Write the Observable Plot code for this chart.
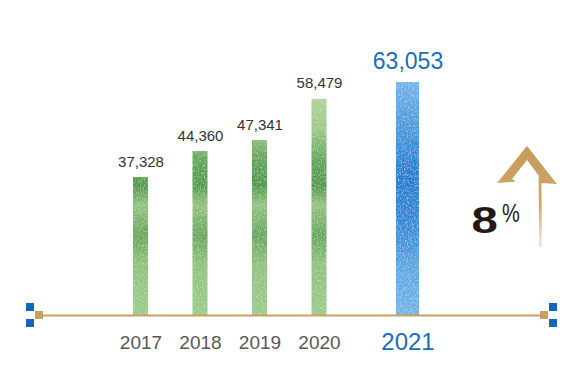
<!DOCTYPE html>
<html><head><meta charset="utf-8">
<script src="https://cdn.jsdelivr.net/npm/d3@7"></script>
<script src="https://cdn.jsdelivr.net/npm/@observablehq/plot@0.6"></script>
<style>html,body{margin:0;padding:0;background:#fff} svg{display:block}</style>
</head><body><div id="chart"></div>
<script>
// ---- data ----
const years = [2017, 2018, 2019, 2020, 2021];
const values = [37328, 44360, 47341, 58479, 63053];
const valueLabels = ["37,328", "44,360", "47,341", "58,479", "63,053"];
const yearLabels = ["2017", "2018", "2019", "2020", "2021"];
const highlightYear = 2021;
const growthLabel = "8";
const growthUnit = "%";

const data = years.map((y, i) => ({year: y, value: values[i], label: valueLabels[i], yearLabel: yearLabels[i]}));
const past = data.filter(d => d.year !== highlightYear);
const current = data.filter(d => d.year === highlightYear);

const W = 577, H = 385, mL = 43, mR = 37, mT = 82, mB = 70;
const BLUE = "#1a6db8", TAN = "#c9a064";

const defsMark = () => {
  const g = d3.create("svg:g");
  g.html(`
    <defs>
      <linearGradient id="gGreen" gradientUnits="userSpaceOnUse" x1="0" y1="95" x2="0" y2="315">
        <stop offset="0" stop-color="#b2d39e"/>
        <stop offset="0.16" stop-color="#9cc887"/>
        <stop offset="0.3" stop-color="#5fa455"/>
        <stop offset="0.41" stop-color="#4f9a4a"/>
        <stop offset="0.5" stop-color="#93c37f"/>
        <stop offset="0.64" stop-color="#66a75a"/>
        <stop offset="0.76" stop-color="#8ec17b"/>
        <stop offset="1" stop-color="#9ccb8a"/>
      </linearGradient>
      <linearGradient id="gBlue" x1="0" y1="0" x2="0" y2="1">
        <stop offset="0" stop-color="#74b4e8"/>
        <stop offset="0.25" stop-color="#3d93da"/>
        <stop offset="0.4" stop-color="#1f7ed0"/>
        <stop offset="0.6" stop-color="#3189d5"/>
        <stop offset="0.8" stop-color="#5ea8e2"/>
        <stop offset="1" stop-color="#73b5e8"/>
      </linearGradient>
      <linearGradient id="gArrow" gradientUnits="userSpaceOnUse" x1="0" y1="145" x2="0" y2="248">
        <stop offset="0" stop-color="#c49a5a"/>
        <stop offset="0.6" stop-color="#cfa86c"/>
        <stop offset="1" stop-color="#e6d2b0" stop-opacity="0.5"/>
      </linearGradient>
      <filter id="tex" x="0" y="0" width="1" height="1">
        <feTurbulence type="fractalNoise" baseFrequency="0.7 0.55" numOctaves="2" seed="4" result="noise"/>
        <feColorMatrix in="noise" type="matrix" values="0 0 0 0 1  0 0 0 0 1  0 0 0 0 1  1.0 0 0 0 -0.48" result="spots"/>
        <feComposite in="spots" in2="SourceGraphic" operator="in" result="clipped"/>
        <feMerge><feMergeNode in="SourceGraphic"/><feMergeNode in="clipped"/></feMerge>
      </filter>
    </defs>`);
  return g.node();
};

const chart = Plot.plot({
  width: W, height: H,
  marginLeft: mL, marginRight: mR, marginTop: mT, marginBottom: mB,
  style: {fontFamily: "'Liberation Sans', Arial, Helvetica, sans-serif", background: "white", overflow: "visible"},
  x: {type: "linear", domain: [2017, 2020, 2021], range: [140.5, 319, 407.5], axis: null},
  y: {domain: [0, 63053], axis: null},
  marks: [
    defsMark,
    Plot.rectY(past, {x1: "year", x2: "year", y: "value", insetLeft: -7.5, insetRight: -7.5, fill: "url(#gGreen)"}),
    Plot.rectY(current, {x1: "year", x2: "year", y: "value", insetLeft: -11.5, insetRight: -11.5, fill: "url(#gBlue)"}),
    Plot.ruleY([0], {stroke: TAN, strokeWidth: 2}),
    Plot.text(past, {x: "year", y: "value", text: "label", lineAnchor: "bottom", dy: -11, fontSize: 15, fill: "#333"}),
    Plot.text(current, {x: "year", y: "value", text: "label", lineAnchor: "bottom", dy: -14, fontSize: 23, fill: BLUE}),
    Plot.text(past, {x: "year", y: () => 0, text: "yearLabel", lineAnchor: "bottom", dy: 33, fontSize: 19, fill: "#595757"}),
    Plot.text(current, {x: "year", y: () => 0, text: "yearLabel", lineAnchor: "bottom", dy: 34, fontSize: 24, fill: BLUE})
  ]
});

const svg = d3.select(chart);
svg.selectAll('[fill^="url(#g"]').attr("filter", "url(#tex)");

// axis end decorations
const L = mL, R = W - mR, Y0 = H - mB;
const deco = svg.append("g");
const sq = (cx, cy, fill) => deco.append("rect").attr("x", cx - 4).attr("y", cy - 4).attr("width", 8).attr("height", 8).attr("fill", fill);
sq(L - 4, Y0, TAN); sq(R + 4, Y0, TAN);
sq(L - 13, Y0 - 8, "#1565b8"); sq(L - 13, Y0 + 8, "#1565b8");
sq(R + 13, Y0 - 8, "#1565b8"); sq(R + 13, Y0 + 8, "#1565b8");

// growth arrow annotation
const ann = svg.append("g").attr("text-anchor", "start");
ann.append("path")
  .attr("d", "M497,183 L527,146 L557,184 L541,183 L539,176 L527,160 L512,179 L516,181.5 Z")
  .attr("fill", "url(#gArrow)");
ann.append("path").attr("d", "M540,177 L540.5,247").attr("fill", "none")
  .attr("stroke", "url(#gArrow)").attr("stroke-width", 2.8);
ann.append("text").text(growthLabel)
  .attr("transform", "translate(471.5,232.5) scale(1.28,1)")
  .attr("font-size", 37).attr("font-weight", "bold").attr("fill", "#231815");
ann.append("text").text(growthUnit)
  .attr("transform", "translate(502,222) scale(0.8,1)")
  .attr("font-size", 25).attr("fill", "#231815");

document.getElementById("chart").append(chart);
</script>
</body></html>
